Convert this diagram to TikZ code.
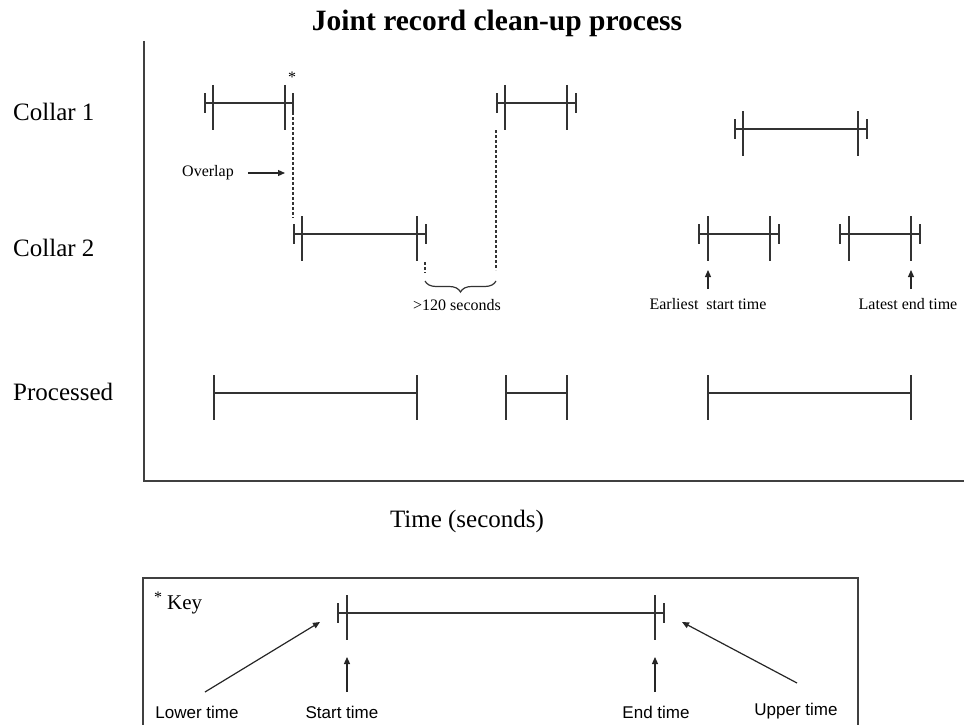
\documentclass[tikz,border=0pt]{standalone}
\usepackage{fontspec}
\setmainfont{Liberation Serif}
\newfontfamily\keysans{Liberation Sans}
\usetikzlibrary{arrows.meta,decorations.pathreplacing}
\newcommand\recseg[5]{%
  \draw[segline] (#1,#5) -- (#4,#5);
  \draw[segline] (#1,{#5-10}) -- (#1,{#5+10});
  \draw[segline] (#4,{#5-10}) -- (#4,{#5+10});
  \draw[segline] (#2,{#5-18}) -- (#2,{#5+27});
  \draw[segline] (#3,{#5-18}) -- (#3,{#5+27});}
\newcommand\procseg[3]{%
  \draw[segline] (#1,#3) -- (#2,#3);
  \draw[segline] (#1,{#3-18}) -- (#1,{#3+27});
  \draw[segline] (#2,{#3-18}) -- (#2,{#3+27});}
\begin{document}
\begin{tikzpicture}[x=1pt,y=-1pt,
  segline/.style={line width=1.6pt, draw=black!80},
  axisline/.style={line width=1.5pt, draw=black!75},
  dashline/.style={line width=1.3pt, dash pattern=on 3pt off 2pt, draw=black!80},
  pointer/.style={line width=1.2pt, draw=black!85, -{Triangle[length=7pt,width=6pt]}},
  rowlabel/.style={font=\fontsize{25}{28}\selectfont, anchor=base west, inner sep=0},
  smalllabel/.style={font=\fontsize{16}{18}\selectfont, inner sep=0},
  keylabel/.style={font=\keysans\fontsize{17}{19}\selectfont, inner sep=0, anchor=base}]
\useasboundingbox (0,0) rectangle (964,725);

% title
\node[font=\fontsize{29.5}{33}\selectfont\bfseries, inner sep=0, anchor=base] (title) at (497,31) {Joint record clean-up process};

% axes
\coordinate (axtop) at (144,41);
\coordinate (axorig) at (144,481);
\coordinate (axright) at (964,481);
\draw[axisline] (axtop) -- (axorig) -- (axright);

% row labels
\node[rowlabel] (c1) at (13,121) {Collar 1};
\node[rowlabel] (c2) at (13,256) {Collar 2};
\node[rowlabel] (pr) at (13,400) {Processed};
\node[font=\fontsize{25}{28}\selectfont, inner sep=0, anchor=base] (tsec) at (467,527) {Time (seconds)};

% collar 1 records
\recseg{205}{213}{285}{293}{103}
\recseg{497}{505}{567}{576}{103}
\recseg{735}{743}{858}{867}{129}

% collar 2 records
\recseg{294}{302}{417}{426}{234}
\recseg{699}{708}{770}{779}{234}
\recseg{840}{849}{911}{920}{234}

% processed
\procseg{214}{417}{393}
\procseg{506}{567}{393}
\procseg{708}{911}{393}

% asterisk and overlap
\node[font=\fontsize{16}{18}\selectfont, inner sep=0] (ast) at (292,77) {*};
\draw[dashline] (293,112) -- (293,218);
\node[smalllabel] (ov) at (208,173) {Overlap};
\coordinate (ovtip) at (285,173);
\draw[pointer] ([xshift=14pt]ov.east) -- (ovtip);

% gap > 120 s
\draw[dashline] (425,262) -- (425,273);
\draw[dashline] (496,130) -- (496,270);
\draw[segline, line width=1.2pt, decorate, decoration={brace, mirror, amplitude=11pt}] (425,281) -- (496,281);
\node[smalllabel] (gap) at (457,305) {>120 seconds};

% earliest / latest
\node[smalllabel] (earl) at (708,304) {Earliest\ \ start time};
\node[smalllabel] (late) at (908,304) {Latest end time};
\coordinate (earltip) at (708,270);
\coordinate (latetip) at (911,270);
\draw[pointer] (708,289) -- (earltip);
\draw[pointer] (911,289) -- (latetip);

% key box
\draw[axisline, line width=1.3pt] (143,735) -- (143,578) -- (858,578) -- (858,735);
\node[font=\fontsize{16}{18}\selectfont, inner sep=0] (kast) at (158,597) {*};
\node[font=\fontsize{21}{24}\selectfont, inner sep=0, anchor=base west] (key) at (167,609) {Key};
\recseg{338}{347}{655}{664}{613}

\node[keylabel] (lower) at (197,718) {Lower time};
\node[keylabel] (start) at (342,718) {Start time};
\node[keylabel] (endt) at (656,718) {End time};
\node[keylabel] (upper) at (796,715) {Upper time};
\coordinate (lowtip) at (320,622);
\coordinate (starttip) at (347,657);
\coordinate (endtip) at (655,657);
\coordinate (uptip) at (682,622);
\draw[pointer] (205,692) -- (lowtip);
\draw[pointer] (347,692) -- (starttip);
\draw[pointer] (655,692) -- (endtip);
\draw[pointer] (797,683) -- (uptip);
\end{tikzpicture}
\end{document}
